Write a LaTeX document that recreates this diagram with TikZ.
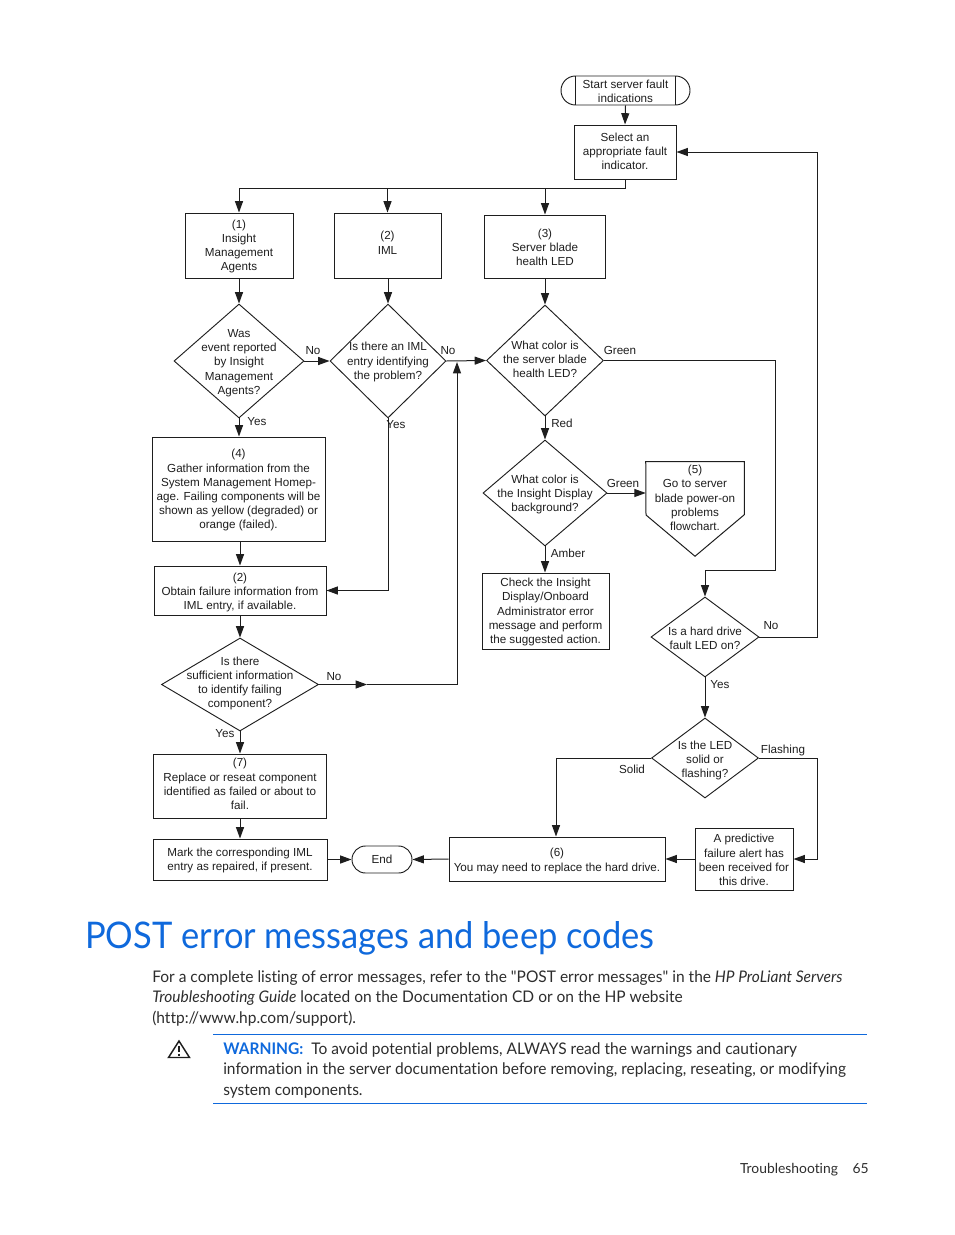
\documentclass[tikz,border=0pt]{standalone}
\usepackage{fontspec}
\setmainfont{Liberation Sans}
\newfontfamily\bodyf[FakeStretch=0.97,Ligatures=NoCommon]{Lato}
\newfontfamily\titlef[FakeStretch=0.94,Ligatures=NoCommon]{Lato}
\newfontfamily\footf[Ligatures=NoCommon]{Lato}
\usetikzlibrary{arrows.meta,shapes.geometric,shapes.misc}
\definecolor{hpblue}{RGB}{15,105,220}
\definecolor{ink}{RGB}{30,30,30}
\definecolor{bodyink}{RGB}{45,45,45}
\tikzset{
  x=0.75pt,y=-0.75pt,
  sz/.style 2 args={minimum width=#1*0.75pt,minimum height=#2*0.75pt,inner sep=0pt},
  chart/.style={font=\fontsize{8.75}{10.65}\selectfont,text=ink,align=center,inner sep=0pt},
  boxn/.style={draw=ink,line width=0.72pt,rectangle},
  dia/.style={draw=ink,line width=0.7pt,diamond,inner sep=0pt},
  dtext/.style={chart},
  term/.style={chart,draw=ink,line width=0.7pt,rounded rectangle},
  conn/.style={draw=ink,line width=0.75pt},
  arr/.style={conn,-{Triangle[length=8.5pt,width=6pt]}},
  lab/.style={chart,anchor=center},
  body/.style={font=\bodyf\fontsize{12}{15}\selectfont,text=bodyink,anchor=base west,inner sep=0pt},
  rulen/.style={draw=hpblue,line width=0.6pt}
}
\begin{document}
\begin{tikzpicture}
\useasboundingbox (0,0) rectangle (954,1235);
% top
\node[term,sz={129}{29},label={[dtext,yshift=-0.75pt]center:Start server fault\\indications}] (start) at (625.5,90.5) {};
\draw[conn] (575,76) -- (575,105) (675.5,76) -- (675.5,105);
\node[boxn,sz={102}{54},label={[dtext,yshift=0.5pt]center:Select an\\appropriate fault\\indicator.}] (sel) at (625,152) {};
\node[boxn,sz={108}{65},label={[dtext,yshift=-0.75pt]center:(1)\\Insight\\Management\\Agents}] (b1) at (239,245.5) {};
\node[boxn,sz={107}{65},label={[dtext,yshift=2pt]center:(2)\\IML}] (b2) at (387.5,245.5) {};
\node[boxn,sz={121}{63},label={[dtext,yshift=-0.75pt]center:(3)\\Server blade\\health LED}] (b3) at (545,246.5) {};
% decision row
\node[dia,sz={130}{114},label={[dtext,yshift=-1.5pt]center:Was\\event reported\\by Insight\\Management\\Agents?}] (d1) at (239,361) {};
\node[dia,sz={116}{114},label={[dtext,yshift=-0.75pt]center:Is there an IML\\entry identifying\\the problem?}] (d2) at (388,361) {};
\node[dia,sz={117}{111},label={[dtext,yshift=0.75pt]center:What color is\\the server blade\\health LED?}] (d3) at (545,360.5) {};
\node[dia,sz={124}{106},label={[dtext,yshift=-1pt]center:What color is\\the Insight Display\\background?}] (d4) at (545,493) {};
% left column
\node[boxn,sz={173}{104},label={[dtext,yshift=-1pt]center:(4)\\Gather information from the\\System Management Homep-\\age. Failing components will be\\shown as yellow (degraded) or\\orange (failed).}] (b4) at (238.5,489) {};
\node[boxn,sz={172}{49},label={[dtext,yshift=-1.5pt]center:(2)\\Obtain failure information from\\IML entry, if available.}] (obt) at (240,590.5) {};
\node[dia,sz={157}{93},label={[dtext,yshift=0.75pt]center:Is there\\sufficient information\\to identify failing\\component?}] (d5) at (240,684.5) {};
\node[boxn,sz={173}{64},label={[dtext,yshift=1.5pt]center:(7)\\Replace or reseat component\\identified as failed or about to\\fail.}] (b7) at (240,786) {};
\node[boxn,sz={174}{41},label={[dtext,yshift=-0.75pt]center:Mark the corresponding IML\\entry as repaired, if present.}] (mark) at (240,859.5) {};
\node[term,sz={60}{27}] (endn) at (382,859.5) {End};
\node[boxn,sz={216}{44},label={[dtext,yshift=-1.5pt]center:(6)\\You may need to replace the hard drive.}] (b6) at (557,859) {};
\node[boxn,sz={98}{62},label={[dtext,yshift=-0.75pt]center:A predictive\\failure alert has\\been received for\\this drive.}] (alert) at (744,859) {};
% right column
\node[inner sep=0pt,sz={98}{94}] (p5) at (695,509) {};
\draw[conn] (p5.north west) -- (p5.north east) -- ++(0,53) -- (p5.south) -- (646,515) -- cycle;
\node[lab] (p5t) at (695,498) {(5)\\Go to server\\blade power-on\\problems\\flowchart.};
\node[boxn,sz={127}{76},label={[dtext,yshift=-0.75pt]center:Check the Insight\\Display/Onboard\\Administrator error\\message and perform\\the suggested action.}] (chk) at (545.5,611) {};
\node[dia,sz={108}{80},label={[dtext,yshift=-1pt]center:Is a hard drive\\fault LED on?}] (d6) at (705,637) {};
\node[dia,sz={107}{80},label={[dtext,yshift=-2pt]center:Is the LED\\solid or\\flashing?}] (d7) at (705,758) {};
% helper coordinates
\coordinate (bus) at (625,188);
\coordinate (mid5) at (367,684.5);
\coordinate (rise) at (457,684.5);
\coordinate (riseEnd) at (457,362);
\coordinate (g1) at (775,360.5);
\coordinate (g2) at (775,570);
\coordinate (g3) at (705,570);
\coordinate (ret) at (817,152);
\coordinate (f1) at (817,758);
\coordinate (s1) at (556,758);
% connectors
\draw[arr] (start.south) -- (sel.north);
\draw[conn] (sel.south) -- (bus) -- (bus -| b1.north);
\draw[arr] (bus -| b1.north) -- (b1.north);
\draw[arr] (bus -| b2.north) -- (b2.north);
\draw[arr] (bus -| b3.north) -- (b3.north);
\draw[arr] (b1.south) -- (d1.north);
\draw[arr] (b2.south -| d2.north) -- (d2.north);
\draw[arr] (b3.south) -- (d3.north);
\draw[arr] (d1.east) -- (d2.west);
\draw[arr] (d2.east) -- (d3.west);
\draw[arr] (d3.south) -- (d4.north);
\draw[arr] (d1.south) -- (b4.north -| d1.south);
\draw[arr] (b4.south -| obt.north) -- (obt.north);
\draw[arr] (d2.south) |- (obt.east);
\draw[arr] (obt.south) -- (d5.north);
\draw[arr] (d5.east) -- (mid5);
\draw[conn] (mid5) -- (rise);
\draw[arr] (rise) -- (riseEnd);
\draw[arr] (d5.south) -- (b7.north);
\draw[arr] (b7.south) -- (mark.north);
\draw[arr] (mark.east) -- (endn.west);
\draw[arr] (b6.west) -- (endn.east);
\draw[arr] (alert.west) -- (b6.east);
\draw[arr] (d4.east) -- (d4.east -| p5.west);
\draw[arr] (d4.south) -- (chk.north -| d4.south);
\draw[conn] (d3.east) -- (g1) -- (g2) -- (g3);
\draw[arr] (g3) -- (d6.north);
\draw[conn] (d6.east) -| (ret);
\draw[arr] (ret) -- (sel.east |- ret);
\draw[arr] (d6.south) -- (d7.north);
\draw[conn] (d7.east) -- (f1);
\draw[arr] (f1) |- (alert.east);
\draw[conn] (d7.west) -- (s1);
\draw[arr] (s1) -- (s1 |- b6.north);
% edge labels
\node[lab] (l1) at (313,351) {No};
\node[lab] (l2) at (257,422) {Yes};
\node[lab] (l3) at (448,351) {No};
\node[lab] (l4) at (396,425) {Yes};
\node[lab] (l5) at (620,350) {Green};
\node[lab] (l6) at (562,423) {Red};
\node[lab] (l7) at (623,483) {Green};
\node[lab] (l8) at (568,553) {Amber};
\node[lab] (l9) at (334,677) {No};
\node[lab] (l10) at (225,734) {Yes};
\node[lab] (l11) at (771,626) {No};
\node[lab] (l12) at (720,685) {Yes};
\node[lab] (l13) at (783,750) {Flashing};
\node[lab] (l14) at (632,769) {Solid};
% page text
\node[body,font=\titlef\fontsize{27.5}{30}\selectfont,text=hpblue] (title) at (85,948) {POST error messages and beep codes};
\node[body] (t1) at (152,982) {For a complete listing of error messages, refer to the "POST error messages" in the \textit{HP ProLiant Servers}};
\node[body] (t2) at (152,1002) {\textit{Troubleshooting Guide} located on the Documentation CD or on the HP website};
\node[body] (t3) at (152,1023) {(http://www.hp.com/support).};
\coordinate (r1a) at (213,1034.5);
\coordinate (r1b) at (867,1034.5);
\coordinate (r2a) at (213,1103.5);
\coordinate (r2b) at (867,1103.5);
\draw[rulen] (r1a) -- (r1b);
\draw[rulen] (r2a) -- (r2b);
\node[body] (w1) at (223,1054) {\textbf{\textcolor{hpblue}{WARNING:}}\hspace{6pt}To avoid potential problems, ALWAYS read the warnings and cautionary};
\node[body] (w2) at (223,1074) {information in the server documentation before removing, replacing, reseating, or modifying};
\node[body] (w3) at (223,1095) {system components.};
\draw[draw=ink,line width=1.1pt,line join=miter] (179,1041) -- (189.5,1057.5) -- (168.5,1057.5) -- cycle;
\draw[draw=ink,line width=1.1pt] (179,1046) -- (179,1052) (179,1053.5) -- (179,1055.5);
\node[body,font=\footf\fontsize{10.4}{12}\selectfont,anchor=base east] (foot) at (869,1173) {Troubleshooting\hspace{11pt}65};
\end{tikzpicture}
\end{document}
